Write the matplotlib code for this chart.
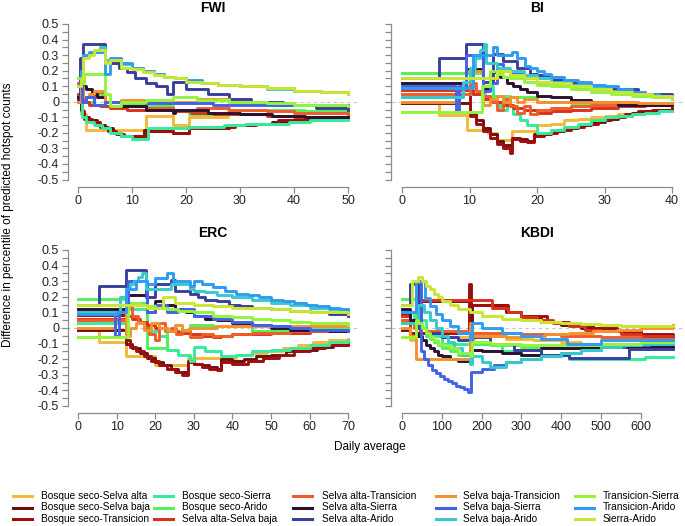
import matplotlib
matplotlib.use('Agg')
import matplotlib.pyplot as plt
from matplotlib.lines import Line2D

plt.rcParams['font.family'] = ['Liberation Sans', 'DejaVu Sans']

#### Series names and colours (legend order = drawing order)
names = ['Bosque seco-Selva alta', 'Bosque seco-Selva baja', 'Bosque seco-Transicion',
         'Bosque seco-Sierra', 'Bosque seco-Arido', 'Selva alta-Selva baja',
         'Selva alta-Transicion', 'Selva alta-Sierra', 'Selva alta-Arido',
         'Selva baja-Transicion', 'Selva baja-Sierra', 'Selva baja-Arido',
         'Transicion-Sierra', 'Transicion-Arido', 'Sierra-Arido']
colors = ['#F2BA3A', '#6B1010', '#A00D0D', '#35EB9C', '#52F05A', '#D9321C',
          '#EE5C2A', '#2B1030', '#3A3F9E', '#F5922F', '#4262E8', '#36CACB',
          '#92F53C', '#2F9CF2', '#C8E632']

#### FWI step data (x = daily average, y = difference)
fwi_x = [
    [0, 0.5, 1.5, 12.5, 17.6, 20.5, 27.7, 40, 50],
    [0, 0.5, 1, 2, 3.5, 5, 6.5, 8, 12.3, 13.5, 17.5, 20.5, 24, 28, 32, 36, 40, 44, 48, 50],
    [0, 0.7, 1.2, 2.5, 4, 5.5, 7, 8.5, 12.5, 13, 17.5, 20.5, 25, 29, 33, 37, 41, 45, 50],
    [0, 0.8, 1.5, 3, 4.5, 6, 8, 10, 13, 17.5, 20.5, 23, 27, 31, 35, 39, 43, 47, 50],
    [0, 1, 3, 5, 8, 12.5, 17.6, 20.5, 28, 35, 42, 50],
    [0, 1, 2, 4, 6, 9, 12.5, 17.5, 21, 25, 30, 35, 40, 45, 50],
    [0, 1, 3, 5, 8, 12.5, 17.5, 22, 28, 35, 40, 50],
    [0, 0.7, 1.5, 2.5, 3.5, 5, 8, 12.5, 17.5, 18, 24, 30, 36, 42, 50],
    [0, 0.3, 1, 5, 7.5, 9, 10.5, 12.5, 14.5, 16.5, 17.6, 20, 24, 28, 32, 38, 44, 50],
    [0, 0.5, 1, 2, 3, 5, 8, 12.5, 17.5, 22, 28, 35, 40, 50],
    [0, 0.3, 0.8, 1.5, 3, 5, 8, 12.5, 17.5, 25, 35, 50],
    [0, 0.5, 1, 2, 3, 4, 5, 6, 8, 10, 12, 14, 16, 18, 20, 23, 26, 30, 35, 40, 45, 50],
    [0, 0.5, 1.2, 5, 6, 8, 12.5, 17.5, 22, 28, 35, 40, 50],
    [0, 0.5, 1, 2, 5, 6, 8, 10, 12, 14, 16, 18, 20, 23, 26, 30, 35, 40, 45, 50],
    [0, 0.5, 1, 2, 3, 5, 6, 8, 10, 12, 14, 16, 18, 20, 23, 26, 30, 35, 40, 45, 50],
]
fwi_y = [
    [0.0, -0.08, -0.18, -0.09, -0.15, -0.1, -0.05, -0.06, -0.06],
    [0.0, -0.05, -0.1, -0.12, -0.15, -0.17, -0.2, -0.22, -0.18, -0.19, -0.2, -0.16, -0.17, -0.15, -0.14, -0.13, -0.12, -0.11, -0.1, -0.1],
    [0.02, -0.06, -0.11, -0.13, -0.16, -0.19, -0.21, -0.22, -0.2, -0.19, -0.2, -0.17, -0.16, -0.15, -0.14, -0.12, -0.11, -0.1, -0.1],
    [0.0, -0.1, -0.13, -0.15, -0.17, -0.2, -0.22, -0.24, -0.17, -0.17, -0.16, -0.16, -0.15, -0.14, -0.14, -0.13, -0.12, -0.12, -0.12],
    [0.03, 0.0, 0.05, 0.0, -0.02, -0.03, -0.06, -0.08, -0.05, -0.05, -0.06, -0.07],
    [0.05, 0.0, -0.02, -0.03, -0.04, -0.05, -0.04, -0.06, -0.07, -0.08, -0.08, -0.09, -0.1, -0.1, -0.1],
    [0.12, 0.03, 0.06, 0.0, -0.03, -0.04, -0.05, -0.04, -0.05, -0.06, -0.07, -0.08],
    [0.03, 0.1, 0.08, 0.05, 0.03, 0.0, -0.03, -0.05, -0.07, -0.05, -0.07, -0.08, -0.09, -0.1, -0.1],
    [0.0, 0.28, 0.37, 0.25, 0.22, 0.19, 0.15, 0.12, 0.1, 0.05, 0.13, 0.08, 0.05, 0.02, 0.0, -0.02, -0.04, -0.05],
    [0.0, 0.1, 0.03, 0.05, 0.07, 0.0, 0.01, 0.0, 0.0, 0.02, 0.0, -0.01, -0.02, -0.02],
    [0.1, 0.13, 0.0, 0.03, -0.02, 0.0, 0.0, -0.01, -0.01, -0.02, -0.02, -0.02],
    [0.1, 0.2, 0.3, 0.31, 0.33, 0.35, 0.27, 0.27, 0.24, 0.22, 0.2, 0.18, 0.16, 0.15, 0.13, 0.12, 0.11, 0.1, 0.08, 0.07, 0.06, 0.05],
    [0.15, 0.12, 0.18, 0.05, -0.03, 0.0, 0.01, 0.03, 0.01, 0.0, -0.01, -0.02, -0.03],
    [0.1, 0.2, 0.3, 0.32, 0.18, 0.28, 0.25, 0.22, 0.2, 0.18, 0.16, 0.15, 0.14, 0.12, 0.11, 0.1, 0.09, 0.07, 0.06, 0.05],
    [0.1, 0.15, 0.28, 0.3, 0.33, 0.25, 0.27, 0.22, 0.21, 0.19, 0.17, 0.16, 0.15, 0.13, 0.12, 0.11, 0.1, 0.09, 0.07, 0.06, 0.05],
]

#### BI step data
bi_x = [
    [0, 5.5, 9.6, 12.8, 14, 16.3, 20, 22, 24, 26, 28, 30, 32, 34, 36, 38, 40],
    [0, 9.5, 10, 11, 12, 13, 14, 15, 16.3, 17.5, 18.5, 19.5, 22, 24, 26, 28, 30, 32, 34, 36, 38, 40],
    [0, 9.5, 10, 11, 12, 13, 14, 15, 16, 16.3, 17.5, 18.5, 19.5, 21, 23, 25, 27, 29, 31, 33, 35, 37, 40],
    [0, 8, 9, 10, 12.3, 13.5, 14.5, 15.5, 16.5, 17.5, 18.5, 20, 22, 24, 26, 28, 30, 32, 34, 36, 38, 40],
    [0, 9.5, 12, 16, 20, 25, 30, 35, 40],
    [0, 9.5, 10.5, 12, 13.5, 15, 16.5, 18, 20, 22, 25, 28, 32, 36, 40],
    [0, 9.5, 10, 11, 12, 13, 14, 15, 16, 17, 18, 19, 20, 22, 25, 28, 32, 36, 40],
    [0, 5.5, 9.5, 12, 13, 14.5, 15.5, 16.5, 17.5, 18.5, 20, 22, 25, 28, 32, 36, 40],
    [0, 5.5, 9.5, 12, 13.5, 15, 17, 19, 20, 22, 25, 28, 30, 35, 40],
    [0, 8.5, 9.5, 12, 13, 14, 15, 16, 17, 18, 20, 25, 30, 35, 40],
    [0, 8, 8.5, 9.5, 12, 13, 14, 15, 16, 18, 20, 23, 26, 30, 35, 40],
    [0, 9, 10, 10.8, 11.5, 12.1, 12.5, 14, 16, 18, 20, 22, 25, 28, 31, 34, 37, 40],
    [0, 11.8, 13, 14, 15, 16, 18, 20, 22, 25, 28, 31, 34, 37, 40],
    [0, 9.5, 10.5, 13.5, 14, 16.3, 17, 18.2, 19, 20, 21, 22, 24, 26, 28, 30, 32, 34, 36, 38, 40],
    [0, 9.5, 12, 14, 16, 18, 20, 22, 25, 28, 31, 34, 37, 40],
]
bi_y = [
    [0.0, -0.085, -0.18, -0.2, -0.245, -0.19, -0.15, -0.14, -0.12, -0.11, -0.1, -0.09, -0.08, -0.07, -0.06, -0.05, -0.05],
    [-0.01, -0.01, -0.07, -0.12, -0.17, -0.21, -0.25, -0.28, -0.23, -0.24, -0.25, -0.21, -0.19, -0.17, -0.15, -0.13, -0.11, -0.09, -0.07, -0.06, -0.05, -0.04],
    [0.08, 0.08, -0.09, -0.14, -0.19, -0.23, -0.27, -0.3, -0.33, -0.24, -0.25, -0.26, -0.22, -0.2, -0.18, -0.16, -0.14, -0.12, -0.1, -0.08, -0.06, -0.05, -0.04],
    [0.03, 0.03, 0.1, 0.05, 0.1, 0.0, -0.05, -0.02, -0.08, -0.12, -0.15, -0.2, -0.18, -0.16, -0.14, -0.12, -0.1, -0.09, -0.08, -0.07, -0.06, -0.06],
    [0.185, 0.185, 0.04, 0.03, 0.0, -0.01, -0.02, -0.02, -0.02],
    [0.075, 0.075, 0.05, 0.02, 0.0, -0.02, -0.04, -0.05, -0.07, -0.06, -0.05, -0.04, -0.03, -0.02, -0.02],
    [0.05, 0.05, 0.12, 0.07, 0.04, 0.0, -0.05, 0.02, -0.03, -0.07, -0.03, -0.08, -0.05, -0.04, -0.03, -0.02, -0.02, -0.02, -0.02],
    [0.12, 0.12, 0.21, 0.08, 0.19, 0.16, 0.12, 0.1, 0.08, 0.06, 0.04, 0.03, 0.01, 0.0, -0.02, -0.02, -0.01],
    [0.15, 0.28, 0.37, 0.13, 0.31, 0.26, 0.22, 0.18, 0.17, 0.14, 0.12, 0.1, 0.08, 0.05, 0.02],
    [0.0, 0.1, 0.2, -0.02, 0.02, 0.04, 0.0, 0.03, 0.0, 0.02, 0.0, 0.0, 0.0, -0.01, -0.01],
    [0.1, -0.05, 0.1, 0.3, 0.07, 0.12, 0.24, 0.2, 0.18, 0.15, 0.12, 0.1, 0.08, 0.06, 0.04, 0.03],
    [0.03, 0.13, 0.22, 0.28, 0.33, 0.37, 0.25, 0.22, 0.2, 0.17, 0.15, 0.13, 0.11, 0.09, 0.07, 0.05, 0.04, 0.03],
    [-0.065, 0.1, 0.2, 0.18, 0.16, 0.15, 0.13, 0.11, 0.1, 0.08, 0.06, 0.05, 0.04, 0.03, 0.02],
    [0.09, 0.09, 0.3, 0.35, 0.3, 0.32, 0.28, 0.23, 0.22, 0.2, 0.18, 0.16, 0.14, 0.13, 0.11, 0.1, 0.08, 0.06, 0.05, 0.04, 0.04],
    [0.15, 0.15, 0.15, 0.2, 0.17, 0.15, 0.13, 0.12, 0.1, 0.08, 0.06, 0.05, 0.04, 0.03],
]

#### ERC step data
erc_x = [
    [0, 5.5, 12.5, 20, 28.5, 37, 41, 45, 49, 53, 57, 61, 65, 70],
    [0, 12.5, 14, 16, 18, 20, 22, 24, 26, 28.5, 30, 32, 34, 36, 37, 40, 43, 46, 50, 54, 58, 62, 66, 70],
    [0, 12.5, 13.5, 15, 17, 19, 21, 23, 25, 27, 28.5, 30, 32, 34, 36, 37, 40, 44, 48, 52, 56, 60, 64, 70],
    [0, 9.5, 13, 18, 21, 23, 26, 29, 30, 33, 37, 41, 45, 50, 55, 60, 65, 70],
    [0, 13, 18, 23, 29, 35, 45, 52, 60, 70],
    [0, 12.5, 14, 16, 18, 20, 23, 26, 29, 32, 35, 37, 40, 45, 50, 55, 60, 65, 70],
    [0, 12.5, 14, 15.5, 17, 18.5, 20, 21, 22.5, 24, 25.5, 27, 29, 32, 35, 40, 45, 50, 55, 60, 65, 70],
    [0, 5.5, 12.5, 18, 20, 22, 25, 28, 30, 33, 36, 40, 45, 50, 55, 60, 65, 70],
    [0, 5.5, 12.5, 17.7, 20, 24, 25, 29, 31, 33, 36, 39, 42, 45, 50, 55, 60, 65, 70],
    [0, 9.5, 12.5, 13.5, 15, 17, 19, 21, 23, 25, 27, 29, 32, 36, 40, 50, 60, 70],
    [0, 9.5, 10.5, 13, 18, 20, 23, 26, 30, 35, 40, 45, 50, 55, 60, 65, 70],
    [0, 9.5, 11, 12.5, 13.5, 14.5, 15.5, 16.5, 17.7, 24, 29, 30, 33, 36, 40, 45, 50, 55, 60, 65, 70],
    [0, 13, 14, 16, 18, 20, 23, 26, 30, 35, 40, 45, 50, 55, 60, 65, 70],
    [0, 10, 12.5, 15, 18, 20, 23, 24.5, 29, 30, 32, 35, 38, 41, 44, 47, 50, 53, 56, 59, 62, 65, 68, 70],
    [0, 18, 22, 25, 30, 35, 40, 45, 50, 55, 60, 65, 70],
]
erc_y = [
    [0.0, -0.09, -0.18, -0.24, -0.19, -0.19, -0.17, -0.16, -0.15, -0.13, -0.11, -0.09, -0.08, -0.07],
    [-0.01, -0.1, -0.13, -0.16, -0.19, -0.22, -0.24, -0.26, -0.28, -0.21, -0.23, -0.24, -0.25, -0.26, -0.2, -0.21, -0.2, -0.18, -0.17, -0.15, -0.14, -0.12, -0.11, -0.1],
    [0.085, -0.08, -0.12, -0.15, -0.18, -0.21, -0.24, -0.26, -0.28, -0.3, -0.22, -0.23, -0.25, -0.26, -0.27, -0.22, -0.23, -0.21, -0.19, -0.17, -0.15, -0.13, -0.11, -0.1],
    [0.03, 0.03, 0.12, -0.02, -0.05, -0.14, -0.17, -0.21, -0.12, -0.15, -0.18, -0.17, -0.15, -0.14, -0.13, -0.11, -0.09, -0.08],
    [0.186, 0.16, -0.13, -0.02, 0.02, 0.01, -0.02, -0.01, 0.0, 0.0],
    [0.06, 0.08, 0.06, 0.04, 0.02, 0.0, -0.02, -0.03, -0.04, -0.05, -0.06, -0.05, -0.04, -0.04, -0.03, -0.03, -0.02, -0.02, -0.02],
    [0.05, 0.14, 0.08, 0.04, 0.0, -0.04, -0.08, 0.03, -0.02, 0.0, -0.04, -0.02, -0.06, -0.04, -0.05, -0.04, -0.03, -0.03, -0.02, -0.02, -0.01, -0.01],
    [0.12, 0.12, 0.21, 0.1, 0.17, 0.15, 0.12, 0.1, 0.08, 0.06, 0.05, 0.03, 0.02, 0.0, -0.01, -0.01, -0.02, -0.02],
    [0.15, 0.27, 0.37, 0.2, 0.28, 0.31, 0.24, 0.22, 0.2, 0.18, 0.17, 0.15, 0.14, 0.13, 0.12, 0.11, 0.1, 0.09, 0.08],
    [0.0, 0.1, -0.05, 0.0, 0.03, -0.01, 0.03, 0.0, -0.02, 0.02, -0.01, 0.0, 0.0, 0.01, 0.01, 0.01, 0.01, 0.01],
    [0.1, -0.05, 0.1, 0.3, 0.1, 0.15, 0.1, 0.12, 0.08, 0.06, 0.04, 0.02, 0.01, 0.0, -0.01, -0.01, -0.02],
    [0.1, 0.1, 0.2, 0.25, 0.28, 0.3, 0.33, 0.35, 0.25, 0.28, 0.25, 0.24, 0.23, 0.21, 0.2, 0.18, 0.16, 0.15, 0.13, 0.12, 0.11],
    [-0.06, 0.15, 0.16, 0.15, 0.14, 0.13, 0.12, 0.11, 0.1, 0.08, 0.07, 0.06, 0.05, 0.04, 0.03, 0.03, 0.02],
    [0.09, 0.1, 0.25, 0.3, 0.28, 0.32, 0.35, 0.3, 0.27, 0.3, 0.28, 0.26, 0.24, 0.22, 0.21, 0.2, 0.18, 0.17, 0.16, 0.15, 0.14, 0.13, 0.12, 0.11],
    [0.15, 0.13, 0.2, 0.16, 0.15, 0.14, 0.13, 0.13, 0.12, 0.11, 0.1, 0.1, 0.09],
]

#### KBDI step data
kbdi_x = [
    [0, 20, 35, 60, 100, 170, 180, 260, 330, 400, 450, 680],
    [0, 20, 40, 170, 175, 260, 300, 350, 400, 450, 500, 550, 600, 680],
    [0, 20, 168, 172, 225, 265, 300, 365, 420, 480, 540, 600, 680],
    [0, 30, 40, 60, 100, 170, 175, 250, 300, 420, 610, 680],
    [0, 35, 40, 50, 60, 70, 80, 90, 100, 120, 140, 170, 175, 220, 300, 400, 500, 600, 680],
    [0, 20, 45, 225, 265, 300, 340, 380, 420, 460, 500, 550, 600, 680],
    [0, 30, 60, 100, 170, 180, 300, 400, 500, 600, 680],
    [0, 20, 35, 40, 50, 60, 70, 80, 90, 100, 120, 140, 170, 175, 200, 250, 300, 350, 450, 680],
    [0, 20, 40, 60, 100, 140, 170, 175, 220, 280, 350, 420, 570, 680],
    [0, 20, 35, 170, 175, 260, 300, 360, 420, 480, 540, 600, 680],
    [0, 36, 47, 55, 65, 75, 85, 95, 105, 115, 125, 135, 145, 155, 165, 172, 200, 230, 260, 300, 350, 400, 450, 500, 560, 620, 680],
    [0, 40, 55, 70, 85, 100, 115, 130, 150, 170, 175, 200, 220, 260, 300, 350, 400, 450, 500, 550, 600, 680],
    [0, 35, 40, 50, 60, 70, 80, 90, 100, 120, 140, 170, 175, 220, 300, 400, 500, 600, 680],
    [0, 35, 57, 70, 85, 100, 120, 140, 170, 175, 200, 250, 300, 350, 415, 500, 600, 680],
    [0, 25, 40, 50, 60, 70, 80, 90, 100, 120, 140, 170, 200, 250, 300, 350, 400, 450, 500, 550, 600, 680],
]
kbdi_y = [
    [0.05, -0.08, -0.03, -0.05, -0.06, -0.07, -0.05, -0.07, -0.08, -0.09, -0.1, -0.1],
    [-0.01, 0.05, 0.17, 0.0, 0.15, 0.1, 0.07, 0.04, 0.02, 0.0, -0.02, -0.03, -0.05, -0.05],
    [0.085, -0.03, 0.28, 0.15, 0.15, 0.1, 0.08, 0.04, 0.02, 0.0, -0.02, -0.04, -0.05],
    [0.03, 0.1, 0.05, -0.05, -0.1, -0.15, -0.1, -0.15, -0.17, -0.2, -0.185, -0.185],
    [0.186, 0.04, 0.03, 0.0, -0.04, -0.07, -0.09, -0.11, -0.13, -0.15, -0.17, -0.19, -0.1, -0.11, -0.12, -0.13, -0.12, -0.11, -0.1],
    [0.075, -0.05, 0.18, 0.13, 0.1, 0.07, 0.05, 0.03, 0.01, -0.01, -0.02, -0.04, -0.05, -0.05],
    [0.05, 0.0, -0.02, -0.02, -0.03, -0.03, -0.04, -0.05, -0.06, -0.07, -0.07],
    [0.12, 0.05, -0.03, -0.05, -0.08, -0.11, -0.13, -0.15, -0.17, -0.18, -0.2, -0.21, -0.22, -0.14, -0.15, -0.16, -0.17, -0.13, -0.12, -0.12],
    [0.15, 0.28, 0.0, -0.03, -0.06, -0.08, -0.1, -0.06, -0.1, -0.14, -0.17, -0.19, -0.135, -0.135],
    [0.0, -0.05, -0.2, 0.03, -0.05, -0.06, -0.05, -0.04, -0.03, -0.02, -0.01, 0.0, 0.02],
    [0.1, 0.3, -0.15, -0.2, -0.24, -0.27, -0.29, -0.31, -0.33, -0.34, -0.35, -0.37, -0.38, -0.39, -0.41, -0.28, -0.26, -0.24, -0.22, -0.2, -0.18, -0.16, -0.14, -0.12, -0.11, -0.1, -0.1],
    [0.03, 0.15, 0.1, 0.05, 0.0, -0.05, -0.09, -0.13, -0.17, -0.23, -0.18, -0.22, -0.25, -0.22, -0.2, -0.18, -0.16, -0.14, -0.12, -0.11, -0.1, -0.1],
    [-0.06, 0.05, 0.03, 0.0, -0.03, -0.06, -0.08, -0.1, -0.11, -0.13, -0.16, -0.18, -0.09, -0.1, -0.11, -0.11, -0.1, -0.09, -0.09],
    [0.1, 0.3, 0.19, 0.14, 0.09, 0.05, 0.01, -0.03, -0.07, 0.03, 0.0, -0.03, -0.05, -0.07, -0.1, -0.08, -0.08, -0.08],
    [0.15, 0.3, 0.33, 0.3, 0.27, 0.25, 0.22, 0.2, 0.17, 0.15, 0.12, 0.1, 0.08, 0.06, 0.05, 0.04, 0.03, 0.025, 0.02, 0.015, 0.015, 0.015],
]

W, H = 685, 526
fig = plt.figure(figsize=(W / 100, H / 100), dpi=100)

# panel: title, x data, y data, last x tick, x tick step, y labels?,
# axes box (px l, t, r, b), px of x=0, px per x unit, px of y=0, px per y unit, y spine px, title px
panels = [
    ('FWI', fwi_x, fwi_y, 50, 10, True, (60, 18, 360, 186.5), 78, 5.4, 101.75, 155.5, 67.5, (213, 8)),
    ('BI', bi_x, bi_y, 40, 10, False, (385, 18, 685, 186.5), 402, 6.75, 101.75, 155.5, 391, (537, 8)),
    ('ERC', erc_x, erc_y, 70, 10, True, (60, 244, 360, 412.5), 78, 3.86, 328, 156, 67.5, (213, 233)),
    ('KBDI', kbdi_x, kbdi_y, 600, 100, False, (385, 244, 685, 412.5), 402, 0.3983, 328, 156, 391, (537, 233)),
]

axis_col = '#8c8c8c'
for title, xs, ys, xmax, xstep, ylab, box, x0, sx, y0, sy, spx, tpos in panels:
    l, t, r, b = box
    ax = fig.add_axes([l / W, 1 - b / H, (r - l) / W, (b - t) / H])
    ax.set_xlim((l - x0) / sx, (r - x0) / sx)
    ax.set_ylim((y0 - b) / sy, (y0 - t) / sy)
    ax.axhline(0, color='#c4c4c4', lw=0.8, ls=(0, (3, 3)), zorder=0)
    for i in range(len(xs)):
        ax.step(xs[i], ys[i], where='post', color=colors[i], lw=2.1)
    for s in ['top', 'right']:
        ax.spines[s].set_visible(False)
    ax.spines['left'].set_position(('data', (spx - x0) / sx))
    ax.spines['left'].set_bounds(-0.5, 0.5)
    ax.spines['bottom'].set_bounds(0, xmax)
    for s in ['left', 'bottom']:
        ax.spines[s].set_color(axis_col)
        ax.spines[s].set_linewidth(0.9)
    ax.set_xticks(range(0, xmax + 1, xstep))
    ax.set_yticks([k / 10 for k in range(-5, 6)])
    ax.set_yticks([k / 20 for k in range(-9, 10, 2)], minor=True)
    ax.set_yticklabels(['0' if k == 0 else f'{k / 10:.1f}' for k in range(-5, 6)])
    ax.tick_params(which='both', length=4, width=0.9, color=axis_col,
                   labelsize=9, labelcolor='#222222', pad=2)
    if not ylab:
        ax.tick_params(labelleft=False)
    fig.text(tpos[0] / W, 1 - tpos[1] / H, title, ha='center', va='center',
             fontsize=10, fontweight='bold')

fig.text(8 / W, 1 - 215 / H, 'Difference in percentile of predicted hotspot counts',
         rotation=90, ha='center', va='center', fontsize=8.5)
fig.text(370 / W, 1 - 447 / H, 'Daily average', ha='center', va='center', fontsize=8.5)

# legend, 5 columns x 3 rows
handle_px = [13, 154, 293, 436, 575]
text_px = [41, 182, 322, 463, 603]
row_px = [496, 507.5, 519]
for i, name in enumerate(names):
    c, rr = i // 3, i % 3
    yy = 1 - row_px[rr] / H
    fig.add_artist(Line2D([handle_px[c] / W, (handle_px[c] + 19) / W], [yy, yy],
                          transform=fig.transFigure, color=colors[i], lw=2.2))
    fig.text(text_px[c] / W, yy, name, va='center', ha='left', fontsize=7.3)

fig.savefig('out.png', dpi=100)
